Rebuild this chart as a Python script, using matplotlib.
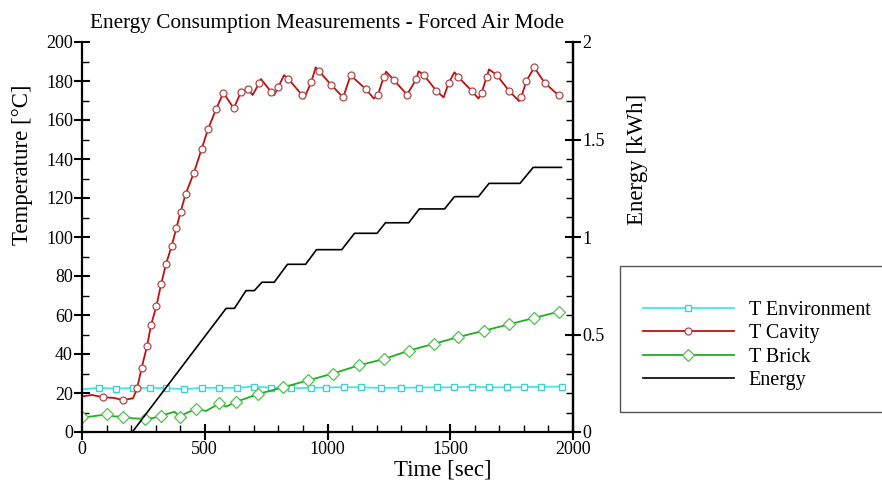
import matplotlib
matplotlib.use('Agg')
import matplotlib.pyplot as plt
from matplotlib.patches import Rectangle
from matplotlib.ticker import MultipleLocator

plt.rcParams['font.family'] = ['Liberation Serif', 'DejaVu Serif']

# T Cavity
time_cav = [0, 40, 87, 130, 165, 208, 225, 243, 265, 281, 303, 322, 342, 365, 384, 402, 422,
            456, 487, 514, 546, 576, 618, 648, 677, 695, 722, 729, 770, 783, 800, 823, 841,
            895, 905, 934, 952, 966, 1015, 1064, 1094, 1155, 1189, 1205, 1229, 1239, 1270,
            1324, 1362, 1371, 1393, 1443, 1473, 1493, 1517, 1533, 1587, 1615, 1628, 1648,
            1658, 1690, 1739, 1780, 1790, 1810, 1842, 1885, 1942]
temp_cav = [18.2, 19.0, 17.8, 17.5, 16.4, 17.3, 22.6, 33, 44, 54.7, 64.6, 75.7, 86, 95.4,
            104.4, 113, 122, 133, 145, 155.5, 165.5, 174, 166, 174.5, 175.7, 172.8, 179, 181,
            174.5, 172.8, 177, 183, 181, 173, 171, 179.6, 187, 185, 178, 171.6, 182.9, 176,
            171, 172.8, 182, 184.8, 180.5, 173, 181, 185, 183, 175, 171.6, 178.8, 184.5, 182,
            175, 171, 174, 182, 186, 183, 175, 169.7, 172, 180, 187, 179, 172.6]
# samples without a marker symbol
cav_unmarked = [0, 40, 130, 208, 695, 729, 783, 823, 905, 952, 1189, 1239, 1371, 1473,
                1517, 1615, 1658, 1780]

# T Environment
time_env = [0, 69, 138, 208, 276, 343, 415, 487, 560, 630, 700, 771, 852, 932, 994, 1067,
            1136, 1218, 1301, 1373, 1444, 1516, 1587, 1659, 1732, 1801, 1871, 1955]
temp_env = [21.9, 22.6, 22.3, 22.6, 22.6, 22.5, 21.9, 22.7, 22.6, 22.7, 23.3, 22.7, 22.4,
            22.7, 22.8, 23.0, 22.9, 22.6, 22.7, 22.8, 22.9, 22.9, 23.2, 22.9, 22.9, 23.0,
            23.2, 23.3]
env_unmarked = [0]

# T Brick
time_brk = [0, 40, 100, 130, 165, 208, 256, 290, 323, 377, 398, 430, 465, 506, 560, 587,
            627, 718, 819, 922, 1023, 1128, 1230, 1331, 1435, 1533, 1639, 1739, 1842, 1942]
temp_brk = [7.5, 8.0, 9.0, 8.0, 7.9, 7.0, 6.7, 7.2, 8.4, 10.4, 7.9, 10.0, 11.8, 10.8, 14.7,
            13.0, 15.4, 19.5, 22.9, 26.5, 30, 34.2, 37.4, 41.7, 45.3, 48.7, 52, 55.2, 58.5,
            61.7]
brk_unmarked = [40, 130, 208, 290, 377, 430, 506, 587]

# Energy
time_en = [205, 587, 621, 668, 702, 733, 783, 837, 911, 955, 1058, 1110, 1202, 1236, 1331,
           1374, 1477, 1517, 1615, 1658, 1784, 1838, 1953]
energy = [0, 0.634, 0.634, 0.725, 0.725, 0.768, 0.768, 0.86, 0.86, 0.935, 0.935, 1.019,
          1.019, 1.073, 1.073, 1.144, 1.144, 1.207, 1.207, 1.275, 1.275, 1.357, 1.357]


def marked(times, skip):
    return [i for i, t in enumerate(times) if t not in skip]


fig = plt.figure(figsize=(8.82, 4.83), dpi=100)
ax = fig.add_axes([82 / 882, 51 / 483, 491 / 882, 390 / 483])
ax2 = ax.twinx()

l_env, = ax.plot(time_env, temp_env, color='#40e8e8', lw=1.3, marker='s', ms=4.5,
                 mfc='white', mec='#40d0d0', mew=1, label='T Environment',
                 markevery=marked(time_env, env_unmarked))
l_cav, = ax.plot(time_cav, temp_cav, color='#c01010', lw=1.3, marker='o', ms=5,
                 mfc='white', mec='#b04848', mew=0.9, label='T Cavity',
                 markevery=marked(time_cav, cav_unmarked))
l_brk, = ax.plot(time_brk, temp_brk, color='#20b020', lw=1.3, marker='D', ms=6,
                 mfc='white', mec='#50c050', mew=0.9, label='T Brick',
                 markevery=marked(time_brk, brk_unmarked))
l_en, = ax2.plot(time_en, energy, color='black', lw=1.2, label='Energy')

ax.set_xlim(0, 2000)
ax.set_ylim(0, 200)
ax2.set_ylim(0, 2)

ax.xaxis.set_major_locator(MultipleLocator(500))
ax.xaxis.set_minor_locator(MultipleLocator(100))
ax.yaxis.set_major_locator(MultipleLocator(20))
ax.yaxis.set_minor_locator(MultipleLocator(10))
ax2.yaxis.set_minor_locator(MultipleLocator(0.1))
ax2.set_yticks([0, 0.5, 1, 1.5, 2])
ax2.set_yticklabels(['0', '0.5', '1', '1.5', '2'])

for a in (ax, ax2):
    a.spines['top'].set_visible(False)
    for s in a.spines.values():
        s.set_linewidth(1.6)
    a.tick_params(which='major', direction='inout', length=11, width=1.5, labelsize=13, pad=1)
    a.tick_params(which='minor', direction='in', length=5, width=1)
ax2.spines['left'].set_visible(False)
ax2.spines['bottom'].set_visible(False)

ax.set_title('Energy Consumption Measurements - Forced Air Mode', fontsize=15.3, pad=10)
ax.set_xlabel('Time [sec]', fontsize=16.5, labelpad=0)
ax.set_ylabel('Temperature [°C]', fontsize=16.5)
ax2.set_ylabel('Energy [kWh]', fontsize=16.5)
ax.xaxis.set_label_coords(0.735, -0.07)
ax.yaxis.set_label_coords(-0.10, 0.685)
ax2.yaxis.set_label_coords(1.11, 0.7)

fig.add_artist(Rectangle((620 / 882, 71 / 483), 270 / 882, 146 / 483,
                         transform=fig.transFigure, fill=False, edgecolor='#555555', lw=1))
fig.legend([l_env, l_cav, l_brk, l_en], ['T Environment', 'T Cavity', 'T Brick', 'Energy'],
           loc='center left', bbox_to_anchor=(643 / 882, 0.285), frameon=False,
           borderpad=0, borderaxespad=0, fontsize=14.5, handlelength=4.5,
           handletextpad=0.75, labelspacing=0.22, numpoints=1)

plt.savefig('out.png', dpi=100)
